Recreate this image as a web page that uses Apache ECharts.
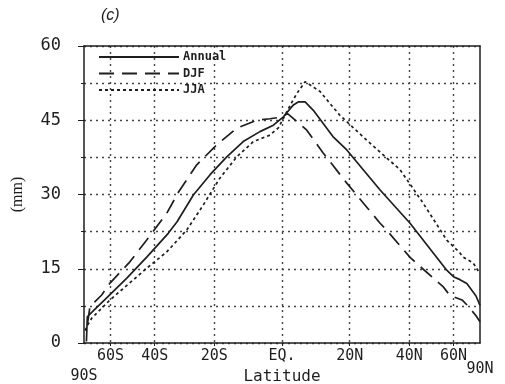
<!DOCTYPE html>
<html>
<head>
<meta charset="utf-8">
<script src="https://cdn.jsdelivr.net/npm/echarts@6/dist/echarts.min.js"></script>
<style>
html,body{margin:0;padding:0;background:#fff;}
#c{width:505px;height:384px;}
</style>
</head>
<body>
<div id="c"></div>
<script>
// Latitudes (degrees) and values (mm); x axis is area-weighted (sine of latitude)
var annualLat = [-81, -79.5, -74, -62, -51.6, -43, -35, -32, -26.6, -21.3, -16.2, -11.3, -6.4, -2.5, 0.4, 3.3, 4.7, 6.7, 9.1, 14.9, 19.1, 29.7, 40.3, 56.3, 60, 64, 69, 78.5, 90];
var annualVal = [0.3, 5.3, 6.2, 9.2, 13.1, 17.4, 22.2, 24.5, 29.9, 34, 37.6, 40.7, 42.7, 44, 45.7, 48.1, 48.7, 48.7, 47, 41.7, 39, 30.9, 24.2, 14.7, 13.4, 12.8, 12, 9.5, 7.6];

var djfLat = [-79, -76, -71, -65.6, -60.3, -50.2, -43.1, -35.6, -31.5, -25.5, -19.3, -13.2, -7.3, -3.5, -0.6, 1.7, 7.2, 12, 19.1, 29.7, 31.9, 40.3, 43, 54.4, 58, 65.4, 69.9, 78.5, 90];
var djfVal = [4, 7.3, 8.3, 9.7, 12.1, 16.4, 20.8, 26.2, 30.5, 36, 40, 43.4, 45, 45.3, 45.6, 46.3, 43, 38.4, 32.3, 24.2, 22.8, 17.3, 16, 11.4, 9.6, 8.7, 7.5, 5.5, 4.3];

var jjaLat = [-84, -80.5, -74, -60.3, -43.1, -35.6, -28.8, -23.4, -18.3, -13.2, -8.3, -3.5, -1, 1, 2.5, 4.3, 6.7, 11.1, 14, 17, 25.3, 36.6, 45.4, 56.3, 64, 66, 74.8, 90];
var jjaVal = [2.5, 3.3, 5, 8.7, 15.1, 18.4, 22.8, 27.9, 33.3, 37.6, 40.7, 42, 43.5, 46.2, 48.2, 50.4, 52.8, 50.8, 48.4, 46, 41, 35, 28.3, 20.8, 18.2, 17.4, 16.2, 14];

var innerTickLats = [-60, -40, -20, 0, 20, 40, 60];
var innerTickNames = ['60S', '40S', '20S', 'EQ.', '20N', '40N', '60N'];
var poleLats = [-90, 90];
var poleNames = ['90S', '90N'];
var yTicks = [0, 15, 30, 45, 60];

function s(lat) { return Math.sin(lat * Math.PI / 180); }
function pairs(lats, vals) { return lats.map(function (l, i) { return [s(l), vals[i]]; }); }
function nearest(vals, v) {
  var idx = 0, best = 9;
  vals.forEach(function (lv, i) { if (Math.abs(lv - v) < best) { best = Math.abs(lv - v); idx = i; } });
  return idx;
}

var innerVals = innerTickLats.map(s);
var poleVals = poleLats.map(s);

var ink = '#1e1e1e';
var gridStyle = { type: [2, 4], color: '#444', width: 1.4 };
var mono = 'DejaVu Sans Mono';
var frameLine = { show: true, onZero: false, lineStyle: { color: ink, width: 1.5 } };

var chart = echarts.init(document.getElementById('c'));
chart.setOption({
  backgroundColor: '#fff',
  animation: false,
  title: {
    text: '(c)', left: 96, top: 3,
    textStyle: { fontFamily: 'Liberation Sans', fontStyle: 'italic', fontWeight: 'normal', fontSize: 16, color: ink }
  },
  legend: {
    data: ['Annual', 'DJF', 'JJA'],
    orient: 'vertical', left: 98, top: 51, padding: 0,
    itemWidth: 80, itemHeight: 12, itemGap: 4.5,
    itemStyle: { opacity: 0 },
    textStyle: { fontFamily: mono, fontSize: 12, fontWeight: 'bold', color: ink, padding: [0, 0, 0, -1] }
  },
  grid: { left: 84, right: 25, top: 46, bottom: 41, outerBoundsMode: 'none', containLabel: false },
  xAxis: [{
    type: 'value', min: -1, max: 1,
    name: 'Latitude', nameLocation: 'middle', nameGap: 23,
    nameTextStyle: { fontFamily: mono, fontSize: 16, color: ink },
    axisLine: frameLine,
    axisTick: { show: true, customValues: innerVals, length: 3, lineStyle: { color: ink } },
    splitLine: { show: true, lineStyle: gridStyle },
    axisLabel: {
      customValues: innerVals, margin: 5,
      fontFamily: mono, fontSize: 15, color: ink, lineHeight: 16,
      formatter: function (v) { return innerTickNames[nearest(innerVals, v)]; }
    }
  }, {
    type: 'value', min: -1, max: 1, position: 'top',
    axisLine: frameLine,
    axisTick: { show: false }, axisLabel: { show: false }, splitLine: { show: false }
  }, {
    type: 'value', min: -1, max: 1, position: 'bottom',
    axisLine: { show: false, onZero: false }, axisTick: { show: false }, splitLine: { show: false },
    axisLabel: {
      customValues: poleVals, margin: 18, showMinLabel: true, showMaxLabel: true,
      fontFamily: mono, fontSize: 15, color: ink,
      formatter: function (v) {
        var i = nearest(poleVals, v);
        return i === 0 ? '{a|' + poleNames[i] + '}' : '{b|' + poleNames[i] + '}';
      },
      rich: {
        a: { lineHeight: 30, fontSize: 15, fontFamily: mono, color: ink },
        b: { lineHeight: 16, fontSize: 15, fontFamily: mono, color: ink }
      }
    }
  }],
  yAxis: [{
    type: 'value', min: 0, max: 60, interval: 15,
    name: '(mm)', nameLocation: 'middle', nameGap: 58,
    nameTextStyle: { fontFamily: 'Liberation Serif', fontSize: 16, color: ink },
    axisLine: frameLine,
    axisTick: { show: true, length: 6, lineStyle: { color: ink } },
    minorTick: { show: true, splitNumber: 2, length: 3, lineStyle: { color: ink } },
    splitLine: { show: true, lineStyle: gridStyle },
    minorSplitLine: { show: true, lineStyle: gridStyle },
    axisLabel: {
      margin: 23, fontFamily: mono, fontSize: 17, color: ink,
      formatter: function (v) { return yTicks.indexOf(v) >= 0 ? String(v) : ''; }
    }
  }, {
    type: 'value', min: 0, max: 60, position: 'right',
    axisLine: frameLine,
    axisTick: { show: false }, axisLabel: { show: false }, splitLine: { show: false }
  }],
  series: [{
    name: 'Annual', type: 'line', symbol: 'none', color: ink,
    lineStyle: { color: ink, width: 1.7, type: 'solid' },
    data: pairs(annualLat, annualVal)
  }, {
    name: 'DJF', type: 'line', symbol: 'none', color: ink,
    lineStyle: { color: ink, width: 1.7, type: [15, 8] },
    data: pairs(djfLat, djfVal)
  }, {
    name: 'JJA', type: 'line', symbol: 'none', color: ink,
    lineStyle: { color: ink, width: 1.7, type: [3, 3] },
    data: pairs(jjaLat, jjaVal)
  }]
});
</script>
</body>
</html>
